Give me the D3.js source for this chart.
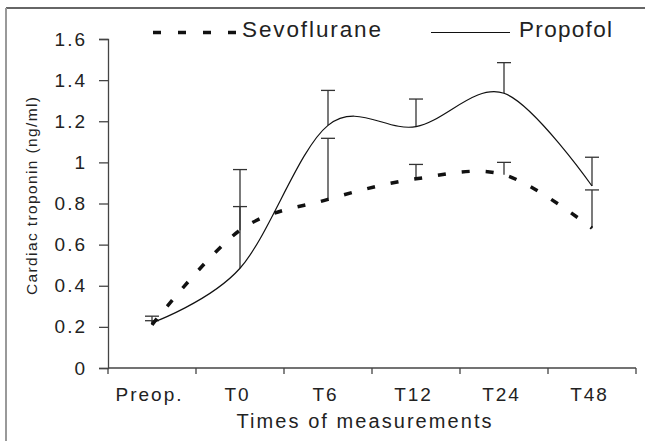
<!DOCTYPE html>
<html>
<head>
<meta charset="utf-8">
<script src="https://cdn.jsdelivr.net/npm/d3@7"></script>
<style>
  body { margin: 0; background: #fff; }
  svg { display: block; }
  text { font-family: Arial, "Liberation Sans", sans-serif; fill: #222; }
</style>
</head>
<body>
<script>
// ---------------- data ----------------
var categories = ["Preop.", "T0", "T6", "T12", "T24", "T48"];
var sevoMean  = [0.21, 0.67, 0.82, 0.92, 0.94, 0.68];
var sevoTop   = [0.23, 0.785, 1.117, 0.99, 1.0, 0.866];
var propMean  = [0.22, 0.485, 1.18, 1.174, 1.336, 0.885];
var propTop   = [0.252, 0.965, 1.35, 1.308, 1.485, 1.025];
var yTicks    = [0, 0.2, 0.4, 0.6, 0.8, 1, 1.2, 1.4, 1.6];

// ---------------- layout ----------------
var W = 645, H = 441;
var margin = {left: 108, right: 9, top: 39, bottom: 73};
var width = W - margin.left - margin.right,
    height = H - margin.top - margin.bottom;

var svg = d3.select("body").append("svg")
    .attr("width", W)
    .attr("height", H);

// outer frame (only top and left edges visible)
svg.append("line").attr("x1", 6).attr("x2", W).attr("y1", 8).attr("y2", 8)
    .attr("stroke", "#333").attr("stroke-width", 1.5);
svg.append("line").attr("x1", 6).attr("x2", 6).attr("y1", 8).attr("y2", H)
    .attr("stroke", "#999").attr("stroke-width", 2);

var g = svg.append("g")
    .attr("transform", "translate(" + margin.left + "," + margin.top + ")");

var x = d3.scaleBand().domain(categories).range([0, width]);
var y = d3.scaleLinear().domain([0, 1.6]).range([height, 0]);
var cx = function(c) { return x(c) + x.bandwidth() / 2; };

// Y axis
var yAxis = g.append("g")
    .call(d3.axisLeft(y).tickValues(yTicks).tickSize(9).tickPadding(12)
        .tickFormat(function(d) { return d3.format("")(+d.toFixed(1)); }));
yAxis.select(".domain").attr("stroke", "#444").attr("stroke-width", 1.3);
yAxis.selectAll(".tick line").attr("stroke", "#444").attr("stroke-width", 1.3);
yAxis.selectAll("text")
    .style("font-size", "19px")
    .style("letter-spacing", "2px")
    .attr("fill", "#222")
    .attr("font-family", null);

// X axis (ticks on band edges)
var xAxisG = g.append("g").attr("transform", "translate(0," + height + ")");
xAxisG.append("line").attr("x1", 0).attr("x2", width)
    .attr("stroke", "#444").attr("stroke-width", 1.3);
xAxisG.selectAll(".xt")
    .data(categories.concat(["end"]))
    .join("line")
    .attr("class", "xt")
    .attr("x1", function(d, i) { return i * x.step(); })
    .attr("x2", function(d, i) { return i * x.step(); })
    .attr("y1", 0).attr("y2", 6)
    .attr("stroke", "#444").attr("stroke-width", 1.3);
xAxisG.selectAll(".xl")
    .data(categories)
    .join("text")
    .attr("class", "xl")
    .attr("x", function(d) { return cx(d) - 2.5; })
    .attr("y", 33)
    .attr("text-anchor", "middle")
    .style("font-size", "19px")
    .style("letter-spacing", "2px")
    .text(function(d) { return d; });

// axis titles
svg.append("text")
    .attr("x", 364).attr("y", 428)
    .attr("text-anchor", "middle")
    .attr("textLength", 255)
    .attr("lengthAdjust", "spacing")
    .style("font-size", "20px")
    .text("Times of measurements");

svg.append("text")
    .attr("transform", "translate(37,196) rotate(-90)")
    .attr("text-anchor", "middle")
    .attr("textLength", 198)
    .attr("lengthAdjust", "spacing")
    .style("font-size", "15.5px")
    .text("Cardiac troponin (ng/ml)");

// error bars (upper only)
function errorBars(means, tops) {
    var eb = g.append("g");
    eb.selectAll("line.v")
        .data(categories)
        .join("line")
        .attr("x1", function(d) { return cx(d); })
        .attr("x2", function(d) { return cx(d); })
        .attr("y1", function(d, i) { return y(means[i]); })
        .attr("y2", function(d, i) { return y(tops[i]); })
        .attr("stroke", "#333").attr("stroke-width", 1.3);
    eb.selectAll("line.c")
        .data(categories)
        .join("line")
        .attr("x1", function(d) { return cx(d) - 7; })
        .attr("x2", function(d) { return cx(d) + 7; })
        .attr("y1", function(d, i) { return y(tops[i]); })
        .attr("y2", function(d, i) { return y(tops[i]); })
        .attr("stroke", "#333").attr("stroke-width", 1.3);
}
errorBars(sevoMean, sevoTop);
errorBars(propMean, propTop);

// lines
var line = d3.line()
    .x(function(d) { return cx(d.c); })
    .y(function(d) { return y(d.v); })
    .curve(d3.curveCatmullRom.alpha(0));

g.append("path")
    .datum(categories.map(function(c, i) { return {c: c, v: sevoMean[i]}; }))
    .attr("d", line)
    .attr("fill", "none")
    .attr("stroke", "#111")
    .attr("stroke-width", 3.5)
    .attr("stroke-dasharray", "8,16");

g.append("path")
    .datum(categories.map(function(c, i) { return {c: c, v: propMean[i]}; }))
    .attr("d", line)
    .attr("fill", "none")
    .attr("stroke", "#111")
    .attr("stroke-width", 1.2);

// legend
var legend = svg.append("g");
legend.append("line")
    .attr("x1", 153).attr("x2", 237).attr("y1", 32.5).attr("y2", 32.5)
    .attr("stroke", "#111").attr("stroke-width", 3.5)
    .attr("stroke-dasharray", "8,17");
legend.append("text")
    .attr("x", 242).attr("y", 37)
    .attr("textLength", 139)
    .attr("lengthAdjust", "spacing")
    .style("font-size", "22.5px")
    .text("Sevoflurane");
legend.append("line")
    .attr("x1", 431).attr("x2", 510).attr("y1", 32.5).attr("y2", 32.5)
    .attr("stroke", "#111").attr("stroke-width", 1.2);
legend.append("text")
    .attr("x", 519).attr("y", 37)
    .attr("textLength", 93)
    .attr("lengthAdjust", "spacing")
    .style("font-size", "22.5px")
    .text("Propofol");
</script>
</body>
</html>
